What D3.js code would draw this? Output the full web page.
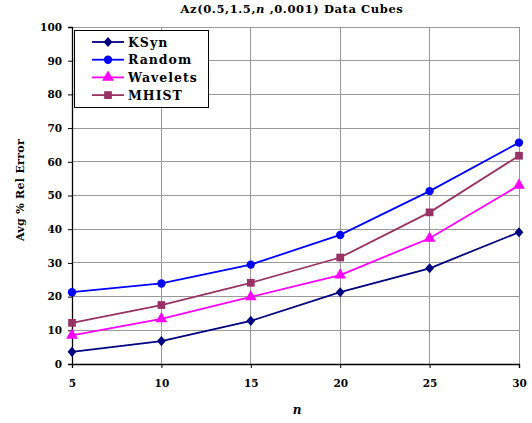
<!DOCTYPE html>
<html><head><meta charset="utf-8">
<script src="https://cdn.jsdelivr.net/npm/d3@7"></script>
<style>body{margin:0;background:#fff}svg{display:block}text{font-family:"DejaVu Serif","Liberation Serif",serif;font-weight:bold}</style>
</head><body><svg id="c" width="532" height="423"></svg>
<script>
const nValues = [5, 10, 15, 20, 25, 30];
const seriesNames = ["KSyn", "Random", "Wavelets", "MHIST"];
const ksyn = [3.6, 6.8, 12.8, 21.3, 28.4, 39.1];
const random = [21.3, 23.9, 29.5, 38.3, 51.3, 65.7];
const wavelets = [8.5, 13.4, 19.9, 26.4, 37.3, 53.0];
const mhist = [12.2, 17.5, 24.1, 31.6, 45.0, 61.8];
const yTicks = [0,10,20,30,40,50,60,70,80,90,100];
const colors = ["#000080", "#0000ff", "#ff00ff", "#993366"];
const wideDiamond = { draw(ctx, size) { const r = Math.sqrt(size) * 0.62, h = r * 1.15;
  ctx.moveTo(0, -h); ctx.lineTo(r, 0); ctx.lineTo(0, h); ctx.lineTo(-r, 0); ctx.closePath(); } };
const symbols = [wideDiamond, d3.symbolCircle, d3.symbolTriangle, d3.symbolSquare];
const symSizes = [50, 55, 60, 60];
const allSeries = [ksyn, random, wavelets, mhist];

const svg = d3.select("#c");
const L = 72, R = 519, T = 27, B = 364;
const x = d3.scaleLinear().domain([5, 30]).range([L, R]);
const y = d3.scaleLinear().domain([0, 100]).range([B, T]);

svg.append("g").selectAll("line").data(yTicks.slice(1)).join("line")
  .attr("x1", L).attr("x2", R).attr("y1", d => y(d)).attr("y2", d => y(d))
  .attr("stroke", "#9a9a9a").attr("stroke-width", 1).attr("shape-rendering","crispEdges");
svg.append("g").selectAll("line").data(nValues.slice(1)).join("line")
  .attr("y1", T).attr("y2", B).attr("x1", d => x(d)).attr("x2", d => x(d))
  .attr("stroke", "#9a9a9a").attr("stroke-width", 1).attr("shape-rendering","crispEdges");

const yAxis = svg.append("g").attr("transform", `translate(${L},0)`)
  .call(d3.axisLeft(y).tickValues(yTicks).tickSize(4).tickPadding(6));
const xAxis = svg.append("g").attr("transform", `translate(0,${B})`)
  .call(d3.axisBottom(x).tickValues(nValues).tickSize(4).tickPadding(12));
[yAxis, xAxis].forEach(a => {
  a.select(".domain").attr("stroke", "#000").attr("stroke-width", 1.3);
  a.selectAll(".tick line").attr("stroke", "#000");
  a.selectAll("text").attr("font-size", 10.5).attr("font-family", '"DejaVu Serif",serif').attr("font-weight","bold").attr("fill","#000");
});

const line = d3.line().x((d, i) => x(nValues[i])).y(d => y(d));
allSeries.forEach((s, k) => {
  svg.append("path").datum(s).attr("d", line).attr("fill", "none")
    .attr("stroke", colors[k]).attr("stroke-width", 1.8);
  svg.append("g").selectAll("path").data(s).join("path")
    .attr("d", d3.symbol().type(symbols[k]).size(symSizes[k]))
    .attr("transform", (d, i) => `translate(${x(nValues[i])},${y(d)})`)
    .attr("fill", colors[k]);
});

const lg = svg.append("g");
lg.append("rect").attr("x", 74.5).attr("y", 30.5).attr("width", 134).attr("height", 77)
  .attr("fill", "#fff").attr("stroke", "#000").attr("stroke-width", 1);
seriesNames.forEach((nm, k) => {
  const yy = 42 + k * 17.7;
  lg.append("line").attr("x1", 92).attr("x2", 124).attr("y1", yy).attr("y2", yy)
    .attr("stroke", colors[k]).attr("stroke-width", 1.8);
  lg.append("path").attr("d", d3.symbol().type(symbols[k]).size(symSizes[k])())
    .attr("transform", `translate(108,${yy})`).attr("fill", colors[k]);
  lg.append("text").attr("x", 128).attr("y", yy + 4.5).attr("font-size", 12.5)
    .attr("letter-spacing", 1).text(nm);
});

const t = svg.append("text").attr("x", 292).attr("y", 13).attr("text-anchor", "middle")
  .attr("font-size", 11.5).attr("letter-spacing", 0.6);
t.append("tspan").text("Az(0.5,1.5,");
t.append("tspan").attr("font-style", "italic").text("n");
t.append("tspan").text(" ,0.001) Data Cubes");

svg.append("text").attr("transform", "translate(24,190) rotate(-90)").attr("text-anchor", "middle")
  .attr("font-size", 11).attr("letter-spacing", 0.3).text("Avg % Rel Error");
svg.append("text").attr("x", 297).attr("y", 414).attr("text-anchor", "middle")
  .attr("font-size", 12).attr("font-style", "italic").text("n");
</script></body></html>
